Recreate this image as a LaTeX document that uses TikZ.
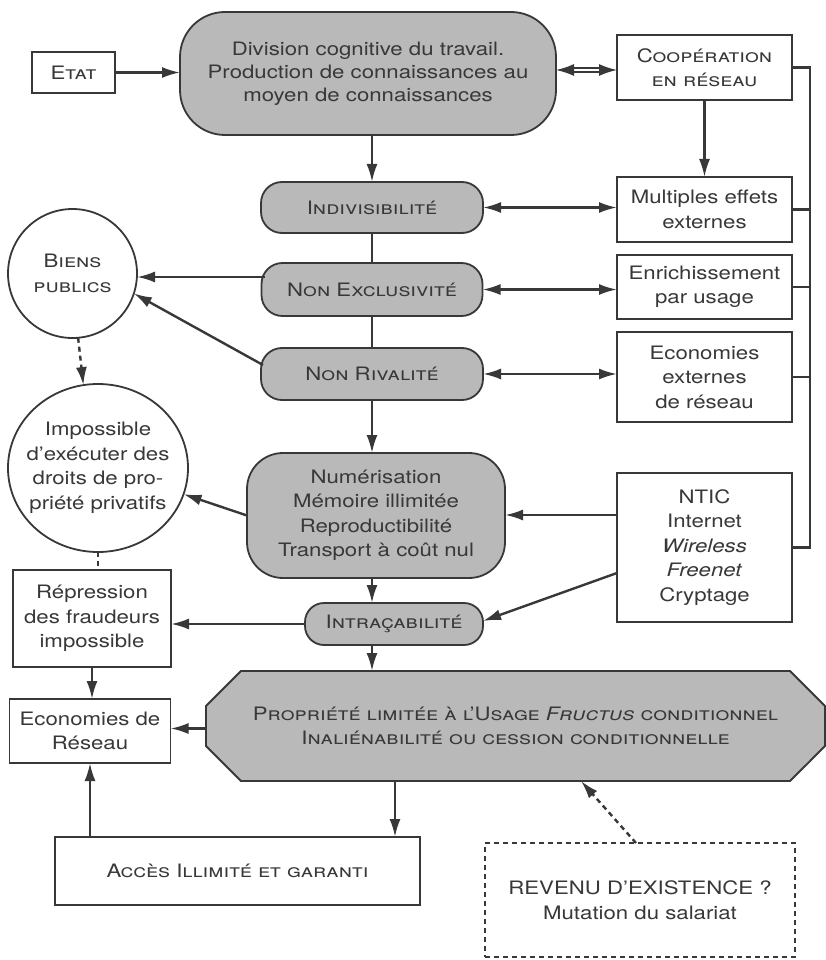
\documentclass[tikz,border=0pt]{standalone}
\usepackage{fontspec}
\setmainfont[FakeStretch=1.2]{TeX Gyre Heros}
\usetikzlibrary{arrows.meta,shapes.misc,shapes.geometric,calc}
\definecolor{ln}{HTML}{383838}
\definecolor{gf}{HTML}{B9B9B9}
\begin{document}
\begin{tikzpicture}[x=1pt,y=-1pt,
  every node/.style={inner sep=0pt, outer sep=0pt, align=center, text=ln,
    font=\fontsize{18.5}{24.5}\selectfont},
  box/.style={draw=ln, line width=1.8pt, rectangle, fill=white},
  gbox/.style={draw=ln, line width=1.8pt, fill=gf},
  pill/.style={gbox, rounded corners=21pt},
  circ/.style={draw=ln, line width=1.8pt, fill=white, circle},
  conn/.style={draw=ln, line width=2.4pt},
  arr/.style={conn, -{Latex[length=18pt,width=11pt]}},
  darr/.style={conn, {Latex[length=18pt,width=11pt]}-{Latex[length=18pt,width=11pt]}},
  dsh/.style={dash pattern=on 5pt off 4pt}
]
\useasboundingbox[fill=white] (0,0) rectangle (826,960);

% ---------- nodes ----------
\node[box, minimum width=83pt, minimum height=41pt] (etat) at (73.5,72.5) {\scshape Etat};
\node[gbox, rounded corners=45pt, minimum width=376pt, minimum height=123pt,
      font=\fontsize{18.5}{23}\selectfont] (main) at (368,73.5)
  {Division cognitive du travail.\\Production de connaissances au\\moyen de connaissances};
\node[box, minimum width=175pt, minimum height=65pt] (coop) at (704.5,67.5)
  {\scshape Coopération\\\scshape en réseau};
\node[box, minimum width=175pt, minimum height=65pt] (multi) at (704.5,209.5)
  {Multiples effets\\externes};
\node[box, minimum width=175pt, minimum height=64pt] (enrich) at (704.5,287)
  {Enrichissement\\par usage};
\node[box, minimum width=175pt, minimum height=90pt] (econext) at (704.5,377)
  {Economies\\externes\\de réseau};
\node[box, minimum width=175pt, minimum height=149pt] (ntic) at (704.5,547.5)
  {NTIC\\Internet\\\textit{Wireless}\\\textit{Freenet}\\Cryptage};

\node[pill, minimum width=222pt, minimum height=51pt] (indiv) at (372,207.5) {\scshape Indivisibilité};
\node[pill, minimum width=221pt, minimum height=53pt] (nonexcl) at (372,289.5) {\scshape Non Exclusivité};
\node[pill, minimum width=222pt, minimum height=52pt] (nonriv) at (372,374) {\scshape Non Rivalité};
\node[gbox, rounded corners=36pt, minimum width=258pt, minimum height=125pt] (numer) at (376,515.5)
  {Numérisation\\Mémoire illimitée\\Reproductibilité\\Transport à coût nul};
\node[gbox, rounded corners=19pt, minimum width=178pt, minimum height=42pt] (intra) at (394,624)
  {\scshape Intraçabilité};
\node[gbox, chamfered rectangle, chamfered rectangle xsep=17pt, chamfered rectangle ysep=18pt,
      minimum width=619pt, minimum height=110pt] (propr) at (515.5,726)
  {\scshape Propriété limitée à l'Usage \textit{Fructus} conditionnel\\\scshape Inaliénabilité ou cession conditionnelle};

\node[circ, minimum size=129pt] (biens) at (72.5,273.5) {\scshape Biens\\\scshape publics};
\node[draw=ln, line width=1.8pt, fill=white, ellipse, minimum width=180pt, minimum height=168pt] (imposs) at (98,468) {};
\node (impostext) at (imposs.center) {Impossible\\d'exécuter des\\droits de pro-\\priété privatifs};
\node[box, minimum width=158pt, minimum height=97pt] (repr) at (92,618.5)
  {Répression\\des fraudeurs\\impossible};
\node[box, minimum width=161pt, minimum height=64pt] (econres) at (90,731)
  {Economies de\\Réseau};
\node[box, minimum width=365pt, minimum height=68pt] (acces) at (237.5,871)
  {\scshape Accès Illimité et garanti};
\node[box, dsh, minimum width=310pt, minimum height=114pt] (revenu) at (640,900)
  {REVENU D'EXISTENCE ?\\Mutation du salariat};

% ---------- connectors ----------
\draw[arr] (etat.east) -- (etat.east -| main.west);
\draw[conn, line width=1.6pt, double=white, double distance=2.2pt,
      {Latex[length=18pt,width=12pt]}-{Latex[length=18pt,width=12pt]}]
  ([yshift=3.5pt]main.east) -- ([yshift=3.5pt]main.east -| coop.west);
\draw[arr] (coop.south) -- (coop.south |- multi.north);

\draw[arr] (indiv.north |- main.south) -- (indiv.north);
\draw[conn] (indiv.south) -- (nonexcl.north);
\draw[conn] (nonexcl.south) -- (nonriv.north);
\draw[arr] (nonriv.south) -- (nonriv.south |- numer.north);
\draw[arr] (nonriv.south |- numer.south) -- (nonriv.south |- intra.north);
\draw[arr] (nonriv.south |- intra.south) -- (nonriv.south |- propr.north);

\draw[darr] (indiv.east) -- (indiv.east -| multi.west);
\draw[darr] (nonexcl.east) -- (nonexcl.east -| enrich.west);
\draw[darr] (nonriv.east) -- (nonriv.east -| econext.west);

\coordinate (busx) at (810,0);
\draw[conn] (coop.east) -- (coop.east -| busx) -- (busx |- ntic.east) -- (ntic.east);
\draw[conn] (multi.east) -- (multi.east -| busx);
\draw[conn] (enrich.east) -- (enrich.east -| busx);
\draw[conn] (econext.east) -- (econext.east -| busx);

\draw[arr] ([xshift=3pt,yshift=12.5pt]nonexcl.west) -- ([yshift=12.5pt]nonexcl.west -| biens.east);
\draw[arr] ([xshift=2pt,yshift=9pt]nonriv.west) -- (biens.-18);
\draw[arr, dsh] (biens.-85) -- (imposs.100);
\draw[arr] (numer.west) -- (imposs.-17);
\draw[conn, dsh] (imposs.south) -- (imposs.south |- repr.north);

\draw[arr] ([yshift=32.5pt]ntic.west) -- ([yshift=32.5pt]ntic.west -| numer.east);
\draw[arr] ([yshift=-25.5pt]ntic.west) -- ([yshift=3pt]intra.east);
\draw[arr] (intra.west) -- (intra.west -| repr.east);
\draw[arr] (repr.south) -- (repr.south |- econres.north);
\draw[arr] ([yshift=-2.5pt]propr.west) -- ([yshift=-2.5pt]propr.west -| econres.east);
\draw[arr] ([xshift=-120.5pt]propr.south) -- ([xshift=-120.5pt]propr.south |- acces.north);
\draw[arr] (acces.north -| econres.south) -- (econres.south);
\draw[arr, dsh] ([xshift=-4pt]revenu.north) -- ([xshift=65.5pt]propr.south);
\end{tikzpicture}
\end{document}
